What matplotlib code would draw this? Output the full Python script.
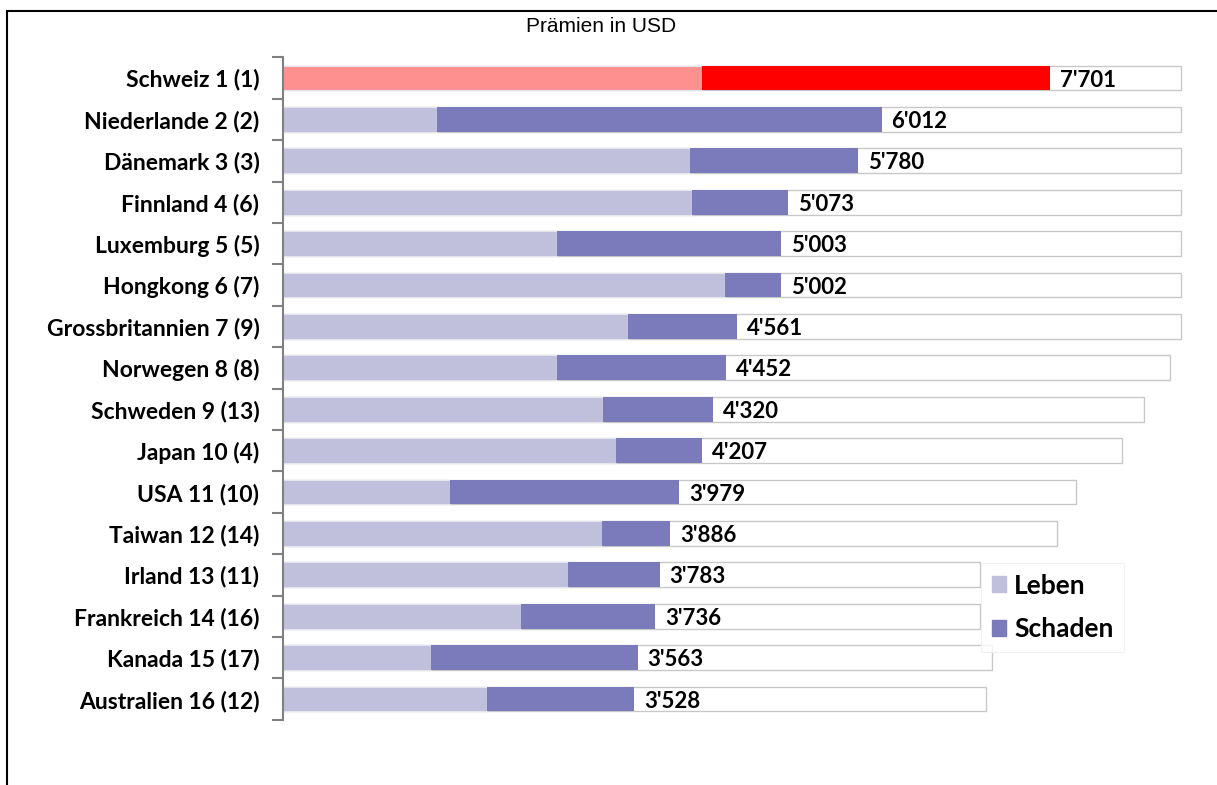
import numpy as np
import matplotlib.pyplot as plt
from matplotlib.patches import Rectangle, Patch

laender = ['Schweiz 1 (1)', 'Niederlande 2 (2)', 'Dänemark 3 (3)', 'Finnland 4 (6)',
           'Luxemburg 5 (5)', 'Hongkong 6 (7)', 'Grossbritannien 7 (9)', 'Norwegen 8 (8)',
           'Schweden 9 (13)', 'Japan 10 (4)', 'USA 11 (10)', 'Taiwan 12 (14)',
           'Irland 13 (11)', 'Frankreich 14 (16)', 'Kanada 15 (17)', 'Australien 16 (12)']
total = [7701, 6012, 5780, 5073, 5003, 5002, 4561, 4452,
         4320, 4207, 3979, 3886, 3783, 3736, 3563, 3528]
leben = [4207, 1546, 4086, 4106, 2751, 4438, 3464, 2751,
         3213, 3343, 1677, 3203, 2861, 2390, 1486, 2048]
# Hintergrund-Kaesten der Beschriftungen (Ende in USD-Skala)
kasten = [9020, 9020, 9020, 9020, 9020, 9020, 9020, 8906,
          8645, 8424, 7962, 7771, 6998, 6998, 7118, 7058]

schaden = [t - l for t, l in zip(total, leben)]
y = np.arange(len(laender))

fig = plt.figure(figsize=(12.17, 7.85), dpi=100)
fig.patches.append(Rectangle((7 / 1217, -0.1), 1.2, 1.1 - 11 / 785,
                             transform=fig.transFigure, fill=False,
                             edgecolor='black', linewidth=1.5))
ax = fig.add_axes([283 / 1217, 1 - 719.7 / 785, 916 / 1217, (719.7 - 57.3) / 785])

h = 0.6
ax.barh(y, kasten, height=h, color='white', edgecolor='#c8c8c8', linewidth=1, zorder=1)
col_l = ['#ff9090'] + ['#c0c0dc'] * (len(y) - 1)
col_s = ['#ff0000'] + ['#7b7bbb'] * (len(y) - 1)
ax.barh(y, leben, height=h, color=col_l, edgecolor='#e4e4ee', linewidth=0.8, zorder=2)
ax.barh(y, schaden, left=leben, height=h, color=col_s, linewidth=0, zorder=2)

for yi, t in zip(y, total):
    ax.text(t + 100, yi + 0.05, f"{t:,}".replace(',', "'"), va='center', ha='left',
            fontsize=16, fontweight='bold', family='Lato', zorder=3)

ax.set_xlim(0, 9200)
ax.set_ylim(len(y) - 0.5, -0.5)
ax.set_yticks(y)
ax.set_yticklabels(laender, fontsize=16.5, fontweight='bold', family='Lato')
ax.set_yticks(np.arange(-0.5, len(y), 1), minor=True)
ax.tick_params(axis='y', which='major', length=0, pad=17)
ax.tick_params(axis='y', which='minor', length=8, color='#808080', width=1.5)
ax.set_xticks([])
for s in ['top', 'right', 'bottom']:
    ax.spines[s].set_visible(False)
ax.spines['left'].set_color('#808080')
ax.spines['left'].set_linewidth(1.5)

fig.text(601 / 1217, 1 - 27 / 785, 'Prämien in USD', ha='center', va='center',
         fontsize=15, family='Liberation Sans')

handles = [Patch(color='#c0c0dc', label='Leben'), Patch(color='#7b7bbb', label='Schaden')]
leg = fig.legend(handles=handles, loc='upper left', bbox_to_anchor=(981 / 1217, 1 - 563 / 785),
                 borderaxespad=0, frameon=True, fancybox=False,
                 handlelength=0.55, handleheight=0.55,
                 handletextpad=0.3, labelspacing=0.75, borderpad=0.4,
                 prop={'family': 'Lato', 'weight': 'bold', 'size': 19})
leg.get_frame().set_edgecolor('#eeeeee')
leg.get_frame().set_linewidth(0.8)

fig.savefig('out.png', dpi=100)
